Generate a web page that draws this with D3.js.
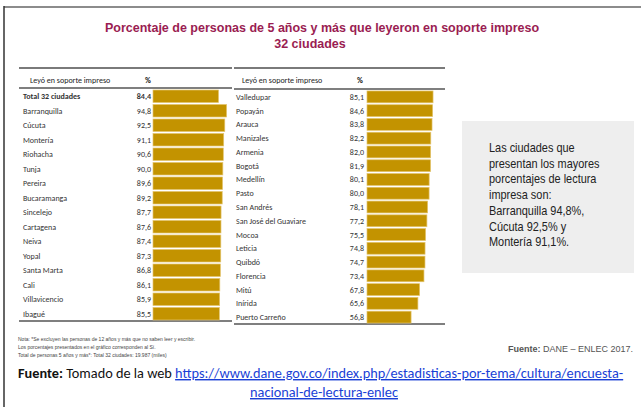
<!DOCTYPE html>
<html>
<head>
  <meta charset="utf-8">
  <title>Lectura en soporte impreso</title>
  <style>
    body { margin: 0; background: #fff; }
    svg { display: block; }
  </style>
</head>
<body>
  <div id="graph"></div>
  <script src="https://cdn.jsdelivr.net/npm/d3@7"></script>
  <script>
    // datos: % de personas de 5 años y más que leyeron en soporte impreso
    const ciudadesIzq = ["Total 32 ciudades", "Barranquilla", "Cúcuta", "Montería", "Riohacha", "Tunja",
      "Pereira", "Bucaramanga", "Sincelejo", "Cartagena", "Neiva", "Yopal", "Santa Marta", "Cali",
      "Villavicencio", "Ibagué"];
    const valoresIzq = [84.4, 94.8, 92.5, 91.1, 90.6, 90.0, 89.6, 89.2, 87.7, 87.6, 87.4, 87.3, 86.8, 86.1, 85.9, 85.5];

    const ciudadesDer = ["Valledupar", "Popayán", "Arauca", "Manizales", "Armenia", "Bogotá", "Medellín",
      "Pasto", "San Andrés", "San José del Guaviare", "Mocoa", "Leticia", "Quibdó", "Florencia", "Mitú",
      "Inírida", "Puerto Carreño"];
    const valoresDer = [85.1, 84.6, 83.8, 82.2, 82.0, 81.9, 80.1, 80.0, 78.1, 77.2, 75.5, 74.8, 74.7, 73.4, 67.8, 65.6, 56.8];

    const titulo = "Porcentaje de personas de 5 años y más que leyeron en soporte impreso";
    const subtitulo = "32 ciudades";
    const encabezado = "Leyó en soporte impreso";
    const cuadroTexto = ["Las ciudades que", "presentan los mayores", "porcentajes de lectura",
      "impresa son:", "Barranquilla 94,8%,", "Cúcuta 92,5% y", "Montería 91,1%."];
    const notas = ["Nota: *Se excluyen las personas de 12 años y más que no saben leer y escribir.",
      "Los porcentajes presentados en el gráfico corresponden al Sí.",
      "Total de personas 5 años y más*: Total 32 ciudades: 19.987 (miles)"];
    const enlace1 = "https://www.dane.gov.co/index.php/estadisticas-por-tema/cultura/encuesta-";
    const enlace2 = "nacional-de-lectura-enlec";

    const W = 641, H = 407;
    const fmt = v => d3.format(".1f")(v).replace(".", ",");
    const tablaFont = "Carlito, Lato, 'Open Sans', sans-serif";
    const arial = "'Liberation Sans', Arial, sans-serif";
    const barColor = "#c39300";

    // estrecha un texto (imitar Arial Narrow)
    function estrechar(sel, f) {
      sel.each(function () {
        const l = this.getComputedTextLength();
        d3.select(this).attr("textLength", l * f).attr("lengthAdjust", "spacingAndGlyphs");
      });
    }

    const svg = d3.select("#graph").append("svg")
      .attr("width", W).attr("height", H);

    // marco
    svg.append("line").attr("x1", 4).attr("x2", W).attr("y1", 7).attr("y2", 7)
      .attr("stroke", "#8c8c8c").attr("stroke-width", 2);
    svg.append("line").attr("x1", 4).attr("x2", 4).attr("y1", 6).attr("y2", H)
      .attr("stroke", "#333").attr("stroke-width", 1.5);

    // titulo
    svg.append("text").attr("x", 322).attr("y", 32).attr("text-anchor", "middle")
      .attr("font-family", arial)
      .attr("font-size", 12.5).attr("font-weight", "bold").attr("fill", "#9a1d52")
      .text(titulo);
    svg.append("text").attr("x", 310).attr("y", 48).attr("text-anchor", "middle")
      .attr("font-family", arial)
      .attr("font-size", 12.5).attr("font-weight", "bold").attr("fill", "#9a1d52")
      .text(subtitulo);

    const x = d3.scaleLinear().domain([0, 100]).range([0, 77.6]);

    function tabla(cfg, nombres, valores) {
      const g = svg.append("g");
      const y = d3.scaleBand().domain(nombres).range([cfg.yTop, cfg.yBottom]).paddingInner(0.14).paddingOuter(0.07);

      g.append("line").attr("x1", cfg.x0).attr("x2", cfg.x1).attr("y1", 68).attr("y2", 68)
        .attr("stroke", "#7a7a7a").attr("stroke-width", 2);
      g.append("line").attr("x1", cfg.x0).attr("x2", cfg.x1).attr("y1", cfg.yHead).attr("y2", cfg.yHead)
        .attr("stroke", "#555").attr("stroke-width", 1.5);
      g.append("line").attr("x1", cfg.x0).attr("x2", cfg.x1).attr("y1", cfg.yBottom).attr("y2", cfg.yBottom)
        .attr("stroke", "#555").attr("stroke-width", 1.5);

      g.append("text").attr("x", cfg.headX).attr("y", 83)
        .attr("font-family", tablaFont).attr("font-size", 8).attr("fill", "#222")
        .text(encabezado);
      g.append("text").attr("x", cfg.pctX).attr("y", 83)
        .attr("font-family", tablaFont).attr("font-size", 8).attr("font-weight", "bold").attr("fill", "#222")
        .text("%");

      const filas = g.selectAll("g.fila").data(nombres.map((n, i) => ({ n, v: valores[i] })))
        .enter().append("g").attr("class", "fila");

      filas.append("rect")
        .attr("x", cfg.barX)
        .attr("y", d => y(d.n))
        .attr("width", d => x(d.v))
        .attr("height", y.bandwidth())
        .attr("fill", barColor)
        .attr("stroke", "#e3c46c").attr("stroke-width", 0.7);

      filas.append("text")
        .attr("x", cfg.labelX)
        .attr("y", d => y(d.n) + y.bandwidth() / 2 + 3)
        .attr("font-family", tablaFont).attr("font-size", 8)
        .attr("font-weight", d => d.n.startsWith("Total") ? "bold" : "normal")
        .attr("fill", "#333")
        .text(d => d.n);

      filas.append("text")
        .attr("x", cfg.valX)
        .attr("y", d => y(d.n) + y.bandwidth() / 2 + 3)
        .attr("text-anchor", "end")
        .attr("font-family", tablaFont).attr("font-size", 8)
        .attr("font-weight", d => d.n.startsWith("Total") ? "bold" : "normal")
        .attr("fill", "#333")
        .text(d => fmt(d.v));
    }

    tabla({ x0: 19, x1: 232, yHead: 88, yTop: 89, yBottom: 321, headX: 30, pctX: 145, labelX: 23, valX: 151, barX: 153 },
      ciudadesIzq, valoresIzq);
    tabla({ x0: 234, x1: 445, yHead: 89, yTop: 90, yBottom: 324, headX: 242, pctX: 357, labelX: 236, valX: 364, barX: 367 },
      ciudadesDer, valoresDer);

    // cuadro gris
    svg.append("rect").attr("x", 462).attr("y", 121).attr("width", 172).attr("height", 152)
      .attr("fill", "#eeeeee");
    svg.append("g").selectAll("text").data(cuadroTexto).enter().append("text")
      .attr("x", 489).attr("y", (d, i) => 152 + i * 15.7)
      .attr("font-family", arial)
      .attr("font-size", 13).attr("fill", "#222")
      .text(d => d)
      .call(estrechar, 0.84);

    // notas
    svg.append("g").selectAll("text").data(notas).enter().append("text")
      .attr("x", 18).attr("y", (d, i) => 341 + i * 8)
      .attr("font-family", arial)
      .attr("font-size", 5).attr("fill", "#444")
      .text(d => d);

    const fd = svg.append("text").attr("x", 633).attr("y", 352).attr("text-anchor", "end")
      .attr("font-family", arial).attr("font-size", 9).attr("fill", "#555");
    fd.append("tspan").attr("font-weight", "bold").text("Fuente:");
    fd.append("tspan").text(" DANE – ENLEC 2017.");

    // fuente web
    const fw = svg.append("text").attr("x", 18).attr("y", 378)
      .attr("font-family", tablaFont).attr("font-size", 14.3).attr("fill", "#111");
    fw.append("tspan").attr("font-weight", "bold").text("Fuente:");
    fw.append("tspan").text(" Tomado de la web ");
    fw.append("tspan").attr("fill", "#1a3fd6").attr("text-decoration", "underline").text(enlace1);

    svg.append("text").attr("x", 324).attr("y", 397).attr("text-anchor", "middle")
      .attr("font-family", tablaFont).attr("font-size", 14.3).attr("fill", "#1a3fd6")
      .attr("text-decoration", "underline")
      .text(enlace2);
  </script>
</body>
</html>
